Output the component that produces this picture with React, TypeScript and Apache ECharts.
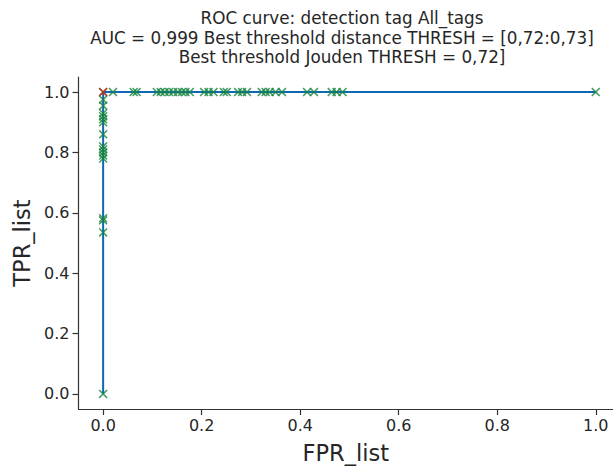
import React, { useEffect, useRef } from "react";
import * as echarts from "echarts";

// ROC points (FPR, TPR)
const fprList: number[] = [
  0, 0, 0, 0, 0, 0, 0, 0, 0, 0, 0, 0, 0, 0, 0, 0, 0,
  0.02, 0.062, 0.068, 0.109, 0.117, 0.125, 0.134, 0.142, 0.152, 0.16, 0.167, 0.176,
  0.205, 0.214, 0.224, 0.245, 0.251, 0.274, 0.282, 0.292,
  0.322, 0.33, 0.338, 0.35, 0.363, 0.414, 0.428, 0.464, 0.474, 0.486, 1.0,
];
const tprList: number[] = [
  0, 0.535, 0.575, 0.582, 0.78, 0.79, 0.8, 0.81, 0.82, 0.86, 0.9, 0.91, 0.92, 0.93, 0.955, 0.975, 1.0,
  1, 1, 1, 1, 1, 1, 1, 1, 1, 1, 1, 1,
  1, 1, 1, 1, 1, 1, 1, 1,
  1, 1, 1, 1, 1, 1, 1, 1, 1, 1, 1,
];
const bestPoint: number[] = [0, 1];
const xTicks: number[] = [0, 0.2, 0.4, 0.6, 0.8, 1.0];
const yTicks: number[] = [0, 0.2, 0.4, 0.6, 0.8, 1.0];
const titleLines: string[] = [
  "ROC curve: detection tag All_tags",
  "AUC = 0,999 Best threshold distance THRESH = [0,72:0,73]",
  "Best threshold Jouden THRESH = 0,72]",
];

const X_PATH =
  "path://M0,1.2 L1.2,0 L5,3.8 L8.8,0 L10,1.2 L6.2,5 L10,8.8 L8.8,10 L5,6.2 L1.2,10 L0,8.8 L3.8,5 Z";

export default function App() {
  const ref = useRef<HTMLDivElement>(null);
  useEffect(() => {
    if (!ref.current) return;
    const chart = echarts.init(ref.current, undefined, { renderer: "svg" });
    const pts = fprList.map((f, i) => [f, tprList[i]]);
    const font = "'DejaVu Sans', 'Liberation Sans', Arial, sans-serif";
    const textColor = "#262626";
    chart.setOption({
      animation: false,
      textStyle: { fontFamily: font },
      grid: { left: 78.5, right: 0, top: 77, bottom: 61, containLabel: false },
      xAxis: {
        type: "value",
        min: -0.05,
        max: 1.035,
        name: "FPR_list",
        nameLocation: "middle",
        nameGap: 32,
        nameTextStyle: { fontSize: 22.5, color: textColor, fontFamily: font },
        axisLine: { show: true, onZero: false, lineStyle: { color: "#333", width: 1.2 } },
        axisTick: { show: true, customValues: xTicks, length: 6, lineStyle: { color: "#333", width: 1.2 } },
        axisLabel: {
          customValues: xTicks,
          formatter: (v: number) => v.toFixed(1),
          fontSize: 16,
          color: textColor,
          margin: 8,
          fontFamily: font,
        },
        splitLine: { show: false },
      },
      yAxis: {
        type: "value",
        min: -0.05,
        max: 1.05,
        name: "TPR_list",
        nameLocation: "middle",
        nameGap: 45,
        nameTextStyle: { fontSize: 22.5, color: textColor, fontFamily: font },
        axisLine: { show: true, onZero: false, lineStyle: { color: "#333", width: 1.2 } },
        axisTick: { show: true, customValues: yTicks, length: 6, lineStyle: { color: "#333", width: 1.2 } },
        axisLabel: {
          customValues: yTicks,
          formatter: (v: number) => v.toFixed(1),
          fontSize: 16,
          color: textColor,
          margin: 9,
          fontFamily: font,
        },
        splitLine: { show: false },
      },
      graphic: titleLines.map((t, i) => ({
        type: "text",
        x: 342,
        y: 18 + i * 19.5,
        style: {
          text: t,
          fill: textColor,
          font: `16.8px ${font}`,
          textAlign: "center",
          textVerticalAlign: "middle",
        },
      })),
      series: [
        {
          type: "line",
          data: pts,
          showSymbol: false,
          lineStyle: { color: "#1068b4", width: 2 },
          z: 1,
        },
        {
          type: "scatter",
          data: pts,
          symbol: X_PATH,
          symbolSize: 9,
          itemStyle: { color: "#15843c" },
          z: 2,
        },
        {
          type: "scatter",
          data: [bestPoint],
          symbol: X_PATH,
          symbolSize: 9,
          itemStyle: { color: "#e0201c" },
          z: 3,
        },
      ],
    });
    return () => chart.dispose();
  }, []);
  return (
    <div
      ref={ref}
      style={{ position: "fixed", left: 0, top: 0, width: 613, height: 470, background: "#fff" }}
    />
  );
}
